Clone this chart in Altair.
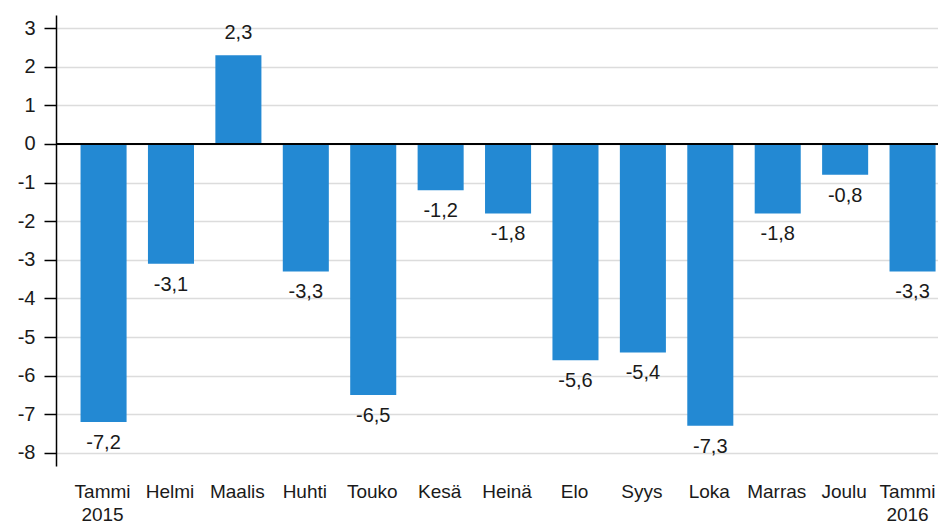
import altair as alt
import pandas as pd

months = ["Tammi\n2015", "Helmi", "Maalis", "Huhti", "Touko", "Kesä", "Heinä",
          "Elo", "Syys", "Loka", "Marras", "Joulu", "Tammi\n2016"]
values = [-7.2, -3.1, 2.3, -3.3, -6.5, -1.2, -1.8, -5.6, -5.4, -7.3, -1.8, -0.8, -3.3]
y_ticks = [-8, -7, -6, -5, -4, -3, -2, -1, 0, 1, 2, 3]

df = pd.DataFrame({"month": months, "value": values})
df["label"] = df["value"].map(lambda v: f"{v:.1f}".replace(".", ","))

FONT = "Liberation Sans"
BAR = "#2389d3"
TXT = "#1a1a1a"

x = alt.X("month:N", sort=months, title=None,
          scale=alt.Scale(paddingInner=0.317, paddingOuter=0.2, align=0.91),
          axis=alt.Axis(labelExpr="split(datum.label, '\\n')", labelAngle=0,
                        domain=False, ticks=False, labelPadding=16,
                        labelFont=FONT, labelFontSize=19, labelColor=TXT,
                        labelLineHeight=23, labelBaseline="top",
                        labelOffset={"condition": {"test": "indexof(datum.value, '2016') >= 0",
                                                   "value": -5},
                                     "value": -1}))
y = alt.Y("value:Q", title=None,
          scale=alt.Scale(domain=[-8.34, 3.34], nice=False, zero=False),
          axis=alt.Axis(values=y_ticks, format="d", tickSize=12, tickColor="#000000",
                        tickWidth=1.5, domainColor="#000000", domainWidth=1.5,
                        labelPadding=9, labelFont=FONT, labelFontSize=20,
                        labelColor=TXT, gridColor="#dcdcdc", gridWidth=1.5,
                        labelExpr="replace(datum.label, '−', '-')"))

bars = alt.Chart(df).mark_bar(color=BAR).encode(x=x, y=y)

neg = alt.Chart(df).transform_filter("datum.value < 0").mark_text(
    baseline="top", dy=11, font=FONT, fontSize=20, color=TXT
).encode(x=alt.X("month:N", sort=months), y="value:Q", text="label:N")

pos = alt.Chart(df).transform_filter("datum.value >= 0").mark_text(
    baseline="alphabetic", dy=-16, font=FONT, fontSize=20, color=TXT
).encode(x=alt.X("month:N", sort=months), y="value:Q", text="label:N")

zero = alt.Chart(pd.DataFrame({"z": [0]})).mark_rule(color="#000000", strokeWidth=2).encode(
    y="z:Q", x=alt.value(0), x2=alt.value(882))

chart = alt.layer(bars, zero, neg, pos).properties(
    width=882, height=451,
    autosize=alt.AutoSizeParams(type="none"),
    padding={"left": 48, "top": 7, "right": 0, "bottom": 64},
).configure_view(stroke=None)

chart.save("out.html", embed_options={"renderer": "svg", "actions": False})
